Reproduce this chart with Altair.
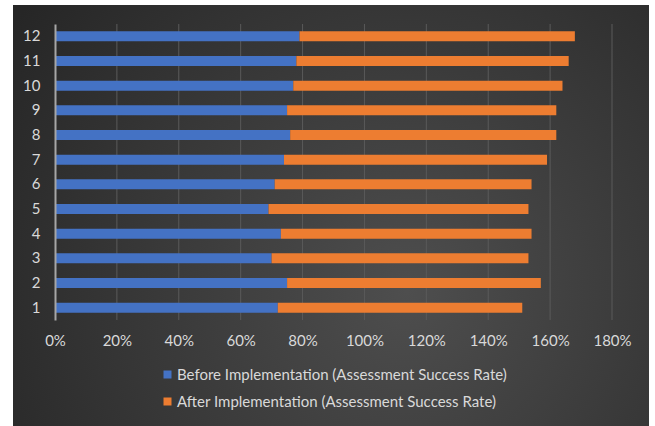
import altair as alt
import pandas as pd

categories = [1, 2, 3, 4, 5, 6, 7, 8, 9, 10, 11, 12]
before = [0.72, 0.75, 0.70, 0.73, 0.69, 0.71, 0.74, 0.76, 0.75, 0.77, 0.78, 0.79]
after = [0.79, 0.82, 0.83, 0.81, 0.84, 0.83, 0.85, 0.86, 0.87, 0.87, 0.88, 0.89]
series = ["Before Implementation (Assessment Success Rate)",
          "After Implementation (Assessment Success Rate)"]
colors = ["#4472C4", "#ED7D31"]
x_ticks = [0, 0.2, 0.4, 0.6, 0.8, 1.0, 1.2, 1.4, 1.6, 1.8]

rows = []
for c, b, a in zip(categories, before, after):
    rows.append({"cat": str(c), "series": series[0], "value": b, "ord": 0})
    rows.append({"cat": str(c), "series": series[1], "value": a, "ord": 1})
df = pd.DataFrame(rows)
grid_df = pd.DataFrame({"value": x_ticks[1:]})

FONT = "Lato"
LABEL = "#d9d9d9"
x_scale = alt.Scale(domain=[0, 1.8], nice=False)
x_axis = alt.Axis(values=x_ticks, format=".0%", title=None,
                  domain=False, ticks=False, grid=False, zindex=2,
                  labelFlush=False, labelOverlap=False,
                  labelColor=LABEL, labelFont=FONT, labelFontSize=15,
                  labelPadding=13)

bg = alt.Chart(pd.DataFrame({"a": [0]})).mark_rect(
    fill=alt.Gradient(
        gradient="radial",
        x1=0.62, y1=0.62, r1=0.0, x2=0.62, y2=0.62, r2=0.75,
        stops=[alt.GradientStop(offset=0, color="#4e4e4e"),
               alt.GradientStop(offset=1, color="#262626")],
    )
).encode(
    x=alt.value(-42), x2=alt.value(594), y=alt.value(-19), y2=alt.value(402)
)

grid = alt.Chart(grid_df).mark_rule(color="#5a5a5a", strokeWidth=1).encode(
    x=alt.X("value:Q", scale=x_scale, axis=x_axis)
)

bars = alt.Chart(df).mark_bar(size=10).encode(
    x=alt.X("value:Q", stack="zero", scale=x_scale, axis=x_axis),
    y=alt.Y("cat:N", sort=[str(c) for c in reversed(categories)],
            axis=alt.Axis(title=None, ticks=False, grid=False, zindex=2,
                          domainColor="#a6a6a6", domainWidth=2,
                          labelColor=LABEL, labelFont=FONT, labelFontSize=15,
                          labelPadding=15)),
    color=alt.Color("series:N", sort=series,
                    scale=alt.Scale(domain=series, range=colors),
                    legend=alt.Legend(title=None, orient="none",
                                      legendX=105, legendY=343,
                                      direction="vertical",
                                      symbolType="square", symbolSize=64,
                                      symbolStrokeWidth=0, symbolOpacity=1,
                                      labelColor=LABEL, labelFont=FONT,
                                      labelFontSize=15, rowPadding=11,
                                      labelOffset=2, labelLimit=0)),
    order=alt.Order("ord:Q"),
)

chart = alt.layer(bg, grid, bars).properties(
    width=557, height=296,
    autosize=alt.AutoSizeParams(type="none"),
    padding={"left": 55, "top": 24, "right": 43, "bottom": 106},
    background="white",
).configure_view(stroke=None)

chart.save("out.html", embed_options={"renderer": "svg", "actions": False})
